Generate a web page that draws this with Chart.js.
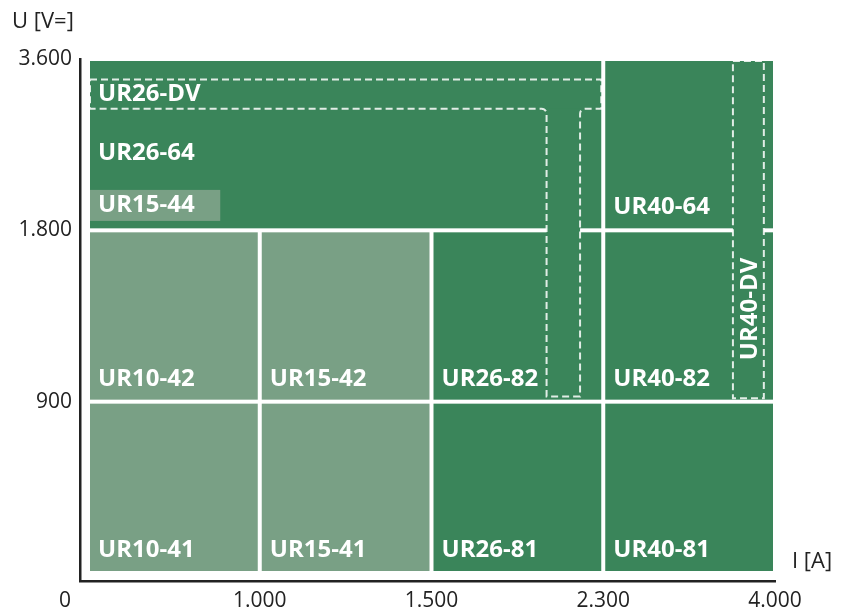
<!DOCTYPE html>
<html>
<head>
<meta charset="utf-8">
<script src="https://cdn.jsdelivr.net/npm/chart.js@4"></script>
<style>
  html, body { margin: 0; padding: 0; background: #fff; }
  #wrap { width: 846px; height: 612px; }
</style>
</head>
<body>
<div id="wrap"><canvas id="chart"></canvas></div>
<script>
// Tick labels (equally spaced steps, not a linear scale)
const xTickLabels = ['0', '1.000', '1.500', '2.300', '4.000'];
const yTickLabels = ['0', '900', '1.800', '3.600'];

// Product blocks, ranges given in tick steps
const blockNames = ['UR10-41', 'UR15-41', 'UR26-81', 'UR40-81',
                    'UR10-42', 'UR15-42', 'UR26-82', 'UR40-82',
                    'UR26-64', 'UR40-64'];
const blockX = [[0, 1], [1, 2], [2, 3], [3, 4],
                [0, 1], [1, 2], [2, 3], [3, 4],
                [0, 3], [3, 4]];
const blockY = [[0, 1], [0, 1], [0, 1], [0, 1],
                [1, 2], [1, 2], [1, 2], [1, 2],
                [2, 3], [2, 3]];
const blockGroup = ['A', 'A', 'B', 'B', 'A', 'A', 'B', 'B', 'B', 'B'];

// Small inset block inside UR26-64
const insetName = 'UR15-44';
const insetX = [0, 0.77];
const insetY = [2.055, 2.236];

// DV variants (dashed outlines)
const dv26Name = 'UR26-DV';
const dv26BandX = [0, 3];
const dv26BandY = [2.71, 2.88];
const dv26StemX = [2.67, 2.865];
const dv26StemY = [1.03, 2.71];
const dv40Name = 'UR40-DV';
const dv40X = [3.755, 3.935];
const dv40Y = [1.02, 3];

const COLORS = { A: '#79a085', B: '#3a855a' };
const GAP = 2;
const FONT = '"Open Sans", "Noto Sans", sans-serif';

const blocksPlugin = {
    id: 'blocks',
    beforeDatasetsDraw(chart) {
        const ctx = chart.ctx;
        const xs = chart.scales.x, ys = chart.scales.y;
        const px = v => xs.getPixelForValue(v);
        const py = v => ys.getPixelForValue(v);

        ctx.save();

        // cells
        blockNames.forEach((name, i) => {
            const x0 = px(blockX[i][0]) + GAP, x1 = px(blockX[i][1]) - GAP;
            const y0 = py(blockY[i][1]) + GAP, y1 = py(blockY[i][0]) - GAP;
            ctx.fillStyle = COLORS[blockGroup[i]];
            ctx.fillRect(x0, y0, x1 - x0, y1 - y0);
        });

        // inset block
        const ix0 = px(insetX[0]) + GAP, ix1 = px(insetX[1]);
        const iy0 = py(insetY[1]), iy1 = py(insetY[0]);
        ctx.fillStyle = COLORS.A;
        ctx.fillRect(ix0, iy0, ix1 - ix0, iy1 - iy0);

        // DV areas run across the white gaps
        const sx0 = px(dv26StemX[0]), sx1 = px(dv26StemX[1]);
        const sy0 = py(dv26StemY[1]), sy1 = py(dv26StemY[0]);
        const bx0 = px(dv26BandX[0]) + GAP, bx1 = px(dv26BandX[1]) - GAP;
        const by0 = py(dv26BandY[1]), by1 = py(dv26BandY[0]);
        const dx0 = px(dv40X[0]), dx1 = px(dv40X[1]);
        const dy0 = py(dv40Y[1]) + GAP, dy1 = py(dv40Y[0]);
        ctx.fillStyle = COLORS.B;
        ctx.fillRect(sx0, sy0, sx1 - sx0, sy1 - sy0);
        ctx.fillRect(dx0, dy0, dx1 - dx0, dy1 - dy0);

        // dashed outlines
        ctx.strokeStyle = 'rgba(255,255,255,0.85)';
        ctx.lineWidth = 2;
        ctx.setLineDash([7, 4]);
        const r = 5;
        ctx.beginPath();
        ctx.moveTo(bx0, by0);
        ctx.lineTo(bx1, by0);
        ctx.lineTo(bx1, by1);
        ctx.lineTo(sx1 + r, by1);
        ctx.arcTo(sx1, by1, sx1, by1 + r, r);
        ctx.lineTo(sx1, sy1);
        ctx.lineTo(sx0, sy1);
        ctx.lineTo(sx0, by1 + r);
        ctx.arcTo(sx0, by1, sx0 - r, by1, r);
        ctx.lineTo(bx0, by1);
        ctx.closePath();
        ctx.stroke();
        ctx.strokeRect(dx0, dy0, dx1 - dx0, dy1 - dy0);
        ctx.setLineDash([]);

        // labels
        ctx.fillStyle = '#fff';
        ctx.font = 'bold 24px ' + FONT;
        ctx.textAlign = 'left';
        ctx.textBaseline = 'alphabetic';
        blockNames.forEach((name, i) => {
            const x0 = px(blockX[i][0]) + GAP;
            let yb = py(blockY[i][0]) - GAP - 14;
            if (name === 'UR26-64') yb = iy0 - 30;
            ctx.fillText(name, x0 + 8, yb);
        });
        ctx.fillText(insetName, ix0 + 8, iy1 - 9);
        ctx.fillText(dv26Name, bx0 + 8, by1 - 8);

        ctx.save();
        ctx.translate((dx0 + dx1) / 2 + 9, dy1 - 38);
        ctx.rotate(-Math.PI / 2);
        ctx.fillText(dv40Name, 0, 0);
        ctx.restore();

        // axis titles and origin label
        ctx.fillStyle = '#222';
        ctx.font = '22px ' + FONT;
        ctx.fillText('U [V=]', 12, 28);
        ctx.fillText('I [A]', 792, 568);
        ctx.font = '21px ' + FONT;
        ctx.textAlign = 'center';
        ctx.fillText(xTickLabels[0], 65, 607);

        ctx.restore();
    }
};

new Chart(document.getElementById('chart'), {
    type: 'scatter',
    data: { datasets: [{ data: [] }] },
    options: {
        responsive: true,
        maintainAspectRatio: false,
        animation: false,
        events: [],
        layout: { padding: { left: 0, top: 59, right: 71, bottom: 0 } },
        plugins: {
            legend: { display: false },
            tooltip: { enabled: false }
        },
        scales: {
            x: {
                type: 'linear',
                min: -0.0466,
                max: 4,
                afterBuildTicks: (scale) => {
                    scale.ticks = [1, 2, 3, 4].map(v => ({ value: v }));
                },
                afterFit: (scale) => { scale.height = 31; },
                grid: { display: false, drawTicks: false },
                border: { display: true, color: '#222', width: 2.5 },
                ticks: {
                    padding: 7,
                    color: '#222',
                    font: { family: FONT, size: 21 },
                    maxRotation: 0,
                    autoSkip: false,
                    callback: (v) => xTickLabels[v]
                }
            },
            y: {
                type: 'linear',
                min: -0.0467,
                max: 3,
                afterBuildTicks: (scale) => {
                    scale.ticks = [1, 2, 3].map(v => ({ value: v }));
                },
                afterFit: (scale) => { scale.width = 80; },
                grid: { display: false, drawTicks: false },
                border: { display: true, color: '#222', width: 2.5 },
                ticks: {
                    padding: 8,
                    color: '#222',
                    font: { family: FONT, size: 21 },
                    autoSkip: false,
                    callback: (v) => yTickLabels[v]
                }
            }
        }
    },
    plugins: [blocksPlugin]
});
</script>
</body>
</html>
